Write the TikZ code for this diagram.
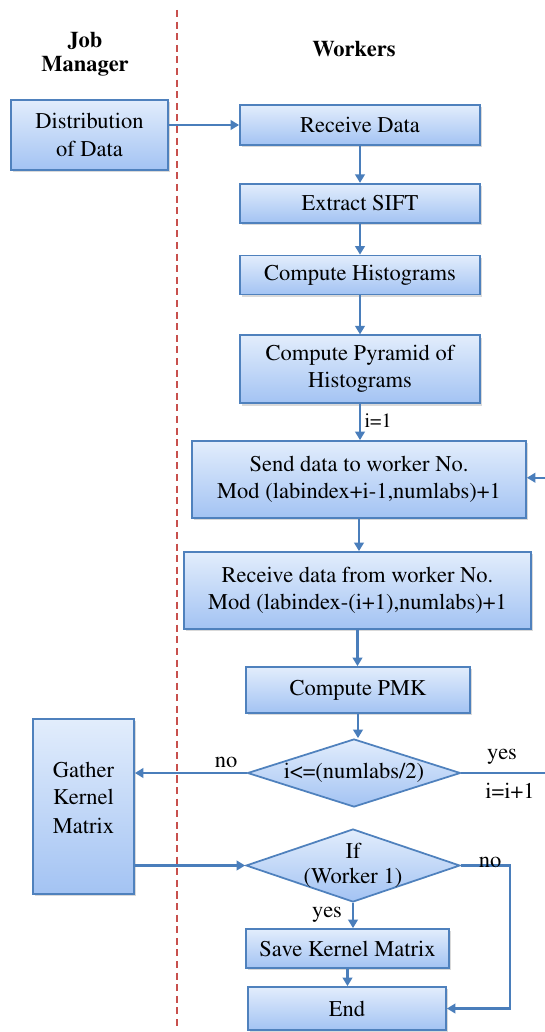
\documentclass[tikz,border=0pt]{standalone}
\usepackage[T1]{fontenc}
\renewcommand{\rmdefault}{ptm}
\usetikzlibrary{shapes.geometric, arrows.meta, positioning, shadows}
\definecolor{boxedge}{HTML}{4F81BD}
\definecolor{boxtop}{HTML}{E2EDFC}
\definecolor{boxbot}{HTML}{A3C3F3}
\definecolor{flow}{HTML}{4A7EBB}
\definecolor{laneline}{HTML}{C8504D}

\begin{document}
\begin{tikzpicture}[
  task/.style={rectangle, draw=boxedge, line width=1pt, top color=boxtop, bottom color=boxbot,
    drop shadow={shadow xshift=1.4pt, shadow yshift=-1.4pt, opacity=0.3},
    font=\fontsize{12.8}{15.4}\selectfont, align=center, inner sep=2pt},
  test/.style={diamond, draw=boxedge, line width=1pt, top color=boxtop, bottom color=boxbot,
    font=\fontsize{12.8}{14.5}\selectfont, align=center, inner xsep=0pt, inner ysep=-3pt},
  head/.style={font=\fontsize{12.8}{13.6}\selectfont\bfseries, align=center},
  lbl/.style={font=\fontsize{12.8}{15}\selectfont, inner sep=1pt},
  arr/.style={-{Triangle[length=4.8pt, width=5.4pt]}, flow, line width=1.25pt},
  node distance=0.7cm,
]
  \useasboundingbox (0,0) rectangle (10.88,-20.64);

  % lane divider
  \draw[laneline, line width=0.9pt, dash pattern=on 4pt off 2.6pt] (3.54,-0.2) -- (3.54,-20.6);

  \node[head] (jm) at (1.7,-1.08) {Job\\Manager};
  \node[head] (wk) at (7.08,-0.98) {Workers};

  \node[task, minimum width=3.14cm, minimum height=1.4cm] (dist) at (1.79,-2.7) {Distribution\\of Data};
  \node[task, minimum width=4.8cm, minimum height=0.8cm] (recv) at (7.2,-2.5) {Receive Data};
  \node[task, minimum width=4.8cm, minimum height=0.78cm, below=0.74cm of recv] (sift) {Extract SIFT};
  \node[task, minimum width=4.8cm, minimum height=0.78cm, below=0.62cm of sift] (hist) {Compute Histograms};
  \node[task, minimum width=4.8cm, minimum height=1.36cm, below=0.78cm of hist] (pyr)
    {Compute Pyramid of\\Histograms};
  \node[task, minimum width=6.68cm, minimum height=1.54cm] (send) at (7.18,-9.59)
    {Send data to worker No.\\Mod (labindex+i-1,numlabs)+1};
  \node[task, minimum width=6.94cm, minimum height=1.54cm] (getd) at (7.15,-11.81)
    {Receive data from worker No.\\Mod (labindex-(i+1),numlabs)+1};
  \node[task, minimum width=4.48cm, minimum height=0.92cm] (pmk) at (7.16,-13.8) {Compute PMK};
  \node[test, aspect=3.1, minimum width=4.26cm, minimum height=1.36cm] (cond) at (7.08,-15.46) {i<=(numlabs/2)};
  \node[task, minimum width=2.02cm, minimum height=3.5cm] (gather) at (1.67,-16.13)
    {Gather\\Kernel\\[1.5pt]Matrix\\[-0.2cm]};
  \node[test, aspect=2.9, minimum width=4.28cm, minimum height=1.46cm] (ifw) at (7.06,-17.31) {If\\(Worker 1)};
  \node[task, minimum width=4.06cm, minimum height=0.78cm] (save) at (6.95,-18.97) {Save Kernel Matrix};
  \node[task, minimum width=3.96cm, minimum height=0.86cm] (fin) at (6.94,-20.17) {End};

  \coordinate (loopc) at (11.3,-15.46);
  \coordinate (noc) at (10.2,-17.31);

  \draw[arr] (dist.east |- recv.west) -- (recv.west);
  \draw[arr] (recv.south) -- (sift.north);
  \draw[arr] (sift.south) -- (hist.north);
  \draw[arr] (hist.south) -- (pyr.north);
  \draw[arr] (pyr.south) -- (pyr.south |- send.north);
  \draw[arr] (send.south) -- (send.south |- getd.north);
  \draw[arr] (getd.south) -- (getd.south |- pmk.north);
  \draw[arr] (pmk.south) -- (pmk.south |- cond.north);
  \draw[arr] (cond.west) -- (cond.west -| gather.east);
  \draw[arr] (cond.east) -- (loopc) |- ([yshift=1pt]send.east);
  \draw[arr] (gather.east |- ifw.west) -- (ifw.west);
  \draw[arr] (ifw.south) -- (ifw.south |- save.north);
  \draw[arr] (ifw.east) -- (noc) |- (fin.east);
  \draw[arr] (save.south) -- (save.south |- fin.north);

  \node[lbl, font=\fontsize{11.5}{13}\selectfont, anchor=west] (ione) at (7.25,-8.42) {i=1};
  \node[lbl] (nol) at (4.52,-15.24) {no};
  \node[lbl] (yesl) at (10.04,-15.14) {yes};
  \node[lbl] (incr) at (10.2,-15.82) {i=i+1};
  \node[lbl] (nor) at (9.8,-17.24) {no};
  \node[lbl] (yesb) at (6.54,-18.3) {yes};
\end{tikzpicture}
\end{document}
